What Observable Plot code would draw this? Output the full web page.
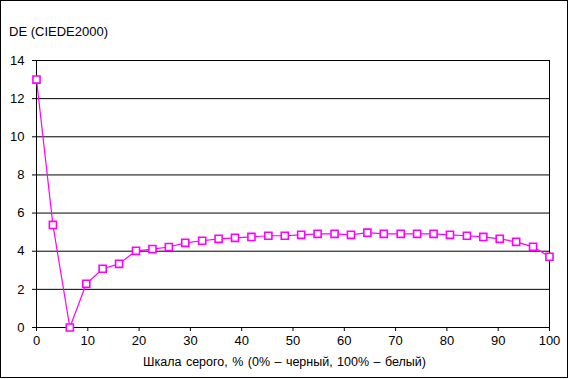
<!DOCTYPE html>
<html>
<head>
<meta charset="utf-8">
<script src="https://cdn.jsdelivr.net/npm/d3@7"></script>
<script src="https://cdn.jsdelivr.net/npm/@observablehq/plot@0.6"></script>
<style>
  html, body { margin: 0; padding: 0; background: #fff; }
  #wrap { position: relative; width: 568px; height: 379px; font-family: "Liberation Sans", Arial, sans-serif; }
  #border { position: absolute; left: 0; top: 0; width: 568px; height: 378px; box-sizing: border-box; border: 1px solid #000; pointer-events: none; }
  #title { position: absolute; left: 9px; top: 24px; font-size: 13px; color: #000; }
  #xlabel { position: absolute; left: 28px; width: 513px; top: 355px; text-align: center; font-size: 12.5px; word-spacing: 1px; color: #000; }
  svg { position: absolute; left: 0; top: 0; }
</style>
</head>
<body>
<div id="wrap">
  <div id="title">DE (CIEDE2000)</div>
  <div id="xlabel">Шкала серого, % (0% – черный, 100% – белый)</div>
  <div id="border"></div>
</div>
<script>
const grayPercent = [0, 3.2, 6.5, 9.7, 12.9, 16.1, 19.4, 22.6, 25.8, 29.0, 32.3, 35.5, 38.7, 41.9, 45.2, 48.4,
  51.6, 54.8, 58.1, 61.3, 64.5, 67.7, 71.0, 74.2, 77.4, 80.6, 83.9, 87.1, 90.3, 93.5, 96.8, 100];
const deltaE = [13.0, 5.38, 0.0, 2.29, 3.08, 3.34, 4.02, 4.11, 4.22, 4.44, 4.55, 4.65, 4.70, 4.75, 4.81, 4.81,
  4.86, 4.91, 4.91, 4.86, 4.97, 4.91, 4.91, 4.91, 4.91, 4.86, 4.81, 4.75, 4.65, 4.49, 4.23, 3.71];
const xTicks = [0, 10, 20, 30, 40, 50, 60, 70, 80, 90, 100];
const yTicks = [0, 2, 4, 6, 8, 10, 12, 14];

const data = grayPercent.map((x, i) => ({x, y: deltaE[i]}));

const chart = Plot.plot({
  width: 568,
  height: 379,
  marginLeft: 36,
  marginRight: 19,
  marginTop: 60,
  marginBottom: 52,
  style: {fontFamily: "'Liberation Sans', Arial, sans-serif", fontSize: "13px", color: "#000", background: "transparent"},
  x: {domain: [0, 100], ticks: xTicks, label: null},
  y: {domain: [0, 14], ticks: yTicks, label: null},
  marks: [
    Plot.gridY(yTicks, {stroke: "#000", strokeOpacity: 1, strokeWidth: 1}),
    Plot.frame({stroke: "#000", strokeWidth: 1}),
    Plot.axisY(yTicks, {tickSize: 4, tickPadding: 8, stroke: "#000", fill: "#000"}),
    Plot.axisX(xTicks, {tickSize: 4, tickPadding: 4, stroke: "#000", fill: "#000"}),
    Plot.line(data, {x: "x", y: "y", stroke: "#ff00ff", strokeWidth: 1.2}),
    Plot.dot(data, {x: "x", y: "y", symbol: "square", r: 4, stroke: "#ff00ff", strokeWidth: 1.6, fill: "#fff"})
  ]
});
document.getElementById("wrap").prepend(chart);
</script>
</body>
</html>
